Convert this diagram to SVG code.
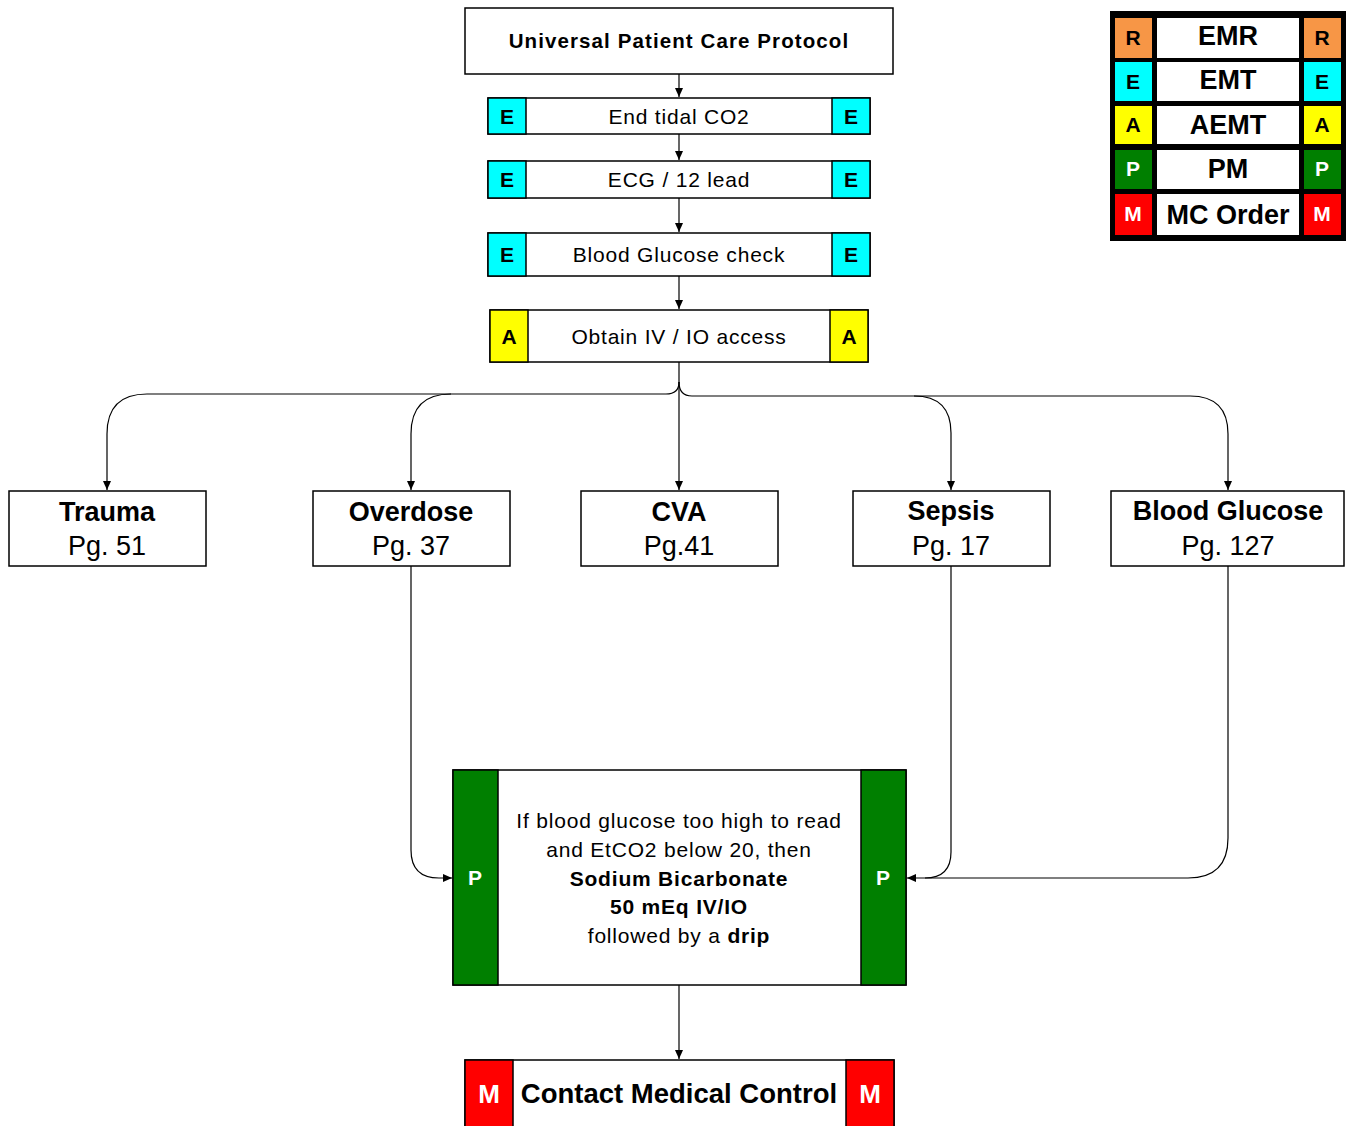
<svg xmlns="http://www.w3.org/2000/svg" width="1346" height="1126" viewBox="0 0 1346 1126">
<style>
text{font-family:"Liberation Sans",Arial,sans-serif;text-anchor:middle;fill:#000}
.b{font-weight:bold}
.box{fill:#fff;stroke:#000;stroke-width:1.5}
.e{fill:#00FFFF;stroke:#000;stroke-width:1.5}
.a{fill:#FFFF00;stroke:#000;stroke-width:1.5}
.p{fill:#007F00;stroke:#000;stroke-width:1.5}
.m{fill:#FF0000;stroke:#000;stroke-width:1.5}
.r{fill:#F79646}
.w{fill:#fff}
.s20{font-size:21px;letter-spacing:0.8px}
.tag{font-size:21px;font-weight:bold}
.wt{fill:#fff}
.conn path{fill:none;stroke:#000;stroke-width:1.2}
</style>
<defs>
<marker id="ah" markerWidth="10" markerHeight="8" refX="9" refY="4" orient="auto" markerUnits="userSpaceOnUse">
<path d="M0,0 L9,4 L0,8 z" fill="#000"/>
</marker>
</defs>

<g class="conn">
<path d="M679,74 L679,97" marker-end="url(#ah)"/>
<path d="M679,134 L679,160" marker-end="url(#ah)"/>
<path d="M679,198 L679,232" marker-end="url(#ah)"/>
<path d="M679,276 L679,309" marker-end="url(#ah)"/>
<path d="M679,362 L679,490" marker-end="url(#ah)"/>
<path d="M679,382 Q679,394 666,394 L147,394 Q107,394 107,434 L107,490" marker-end="url(#ah)"/>
<path d="M451,394 Q411,394 411,434 L411,490" marker-end="url(#ah)"/>
<path d="M679,382 Q679,396 692,396 L914,396 Q951,396 951,433 L951,490" marker-end="url(#ah)"/>
<path d="M914,396 L1190,396 Q1228,396 1228,434 L1228,490" marker-end="url(#ah)"/>
<path d="M411,566 L411,850 Q411,878 439,878 L452,878" marker-end="url(#ah)"/>
<path d="M951,566 L951,852 Q951,878 925,878 L907,878" marker-end="url(#ah)"/>
<path d="M1228,566 L1228,838 Q1228,878 1188,878 L925,878"/>
<path d="M679,985 L679,1059" marker-end="url(#ah)"/>
</g>

<g id="n-universal">
<rect class="box" x="465" y="8" width="428" height="66"/>
<text class="b" x="679" y="48" font-size="20.5" letter-spacing="1.1">Universal Patient Care Protocol</text>
</g>

<g id="n-etco2">
<rect class="box" x="488" y="98" width="382" height="36"/>
<rect class="e" x="488" y="98" width="38" height="36"/>
<rect class="e" x="832" y="98" width="38" height="36"/>
<text class="tag" x="507" y="124">E</text>
<text class="tag" x="851" y="124">E</text>
<text class="s20" x="679" y="124">End tidal CO2</text>
</g>

<g id="n-ecg">
<rect class="box" x="488" y="161" width="382" height="37"/>
<rect class="e" x="488" y="161" width="38" height="37"/>
<rect class="e" x="832" y="161" width="38" height="37"/>
<text class="tag" x="507" y="187">E</text>
<text class="tag" x="851" y="187">E</text>
<text class="s20" x="679" y="187">ECG / 12 lead</text>
</g>

<g id="n-bgcheck">
<rect class="box" x="488" y="233" width="382" height="43"/>
<rect class="e" x="488" y="233" width="38" height="43"/>
<rect class="e" x="832" y="233" width="38" height="43"/>
<text class="tag" x="507" y="262">E</text>
<text class="tag" x="851" y="262">E</text>
<text class="s20" x="679" y="262">Blood Glucose check</text>
</g>

<g id="n-iv">
<rect class="box" x="490" y="310" width="378" height="52"/>
<rect class="a" x="490" y="310" width="38" height="52"/>
<rect class="a" x="830" y="310" width="38" height="52"/>
<text class="tag" x="509" y="344">A</text>
<text class="tag" x="849" y="344">A</text>
<text class="s20" x="679" y="344">Obtain IV / IO access</text>
</g>

<g id="n-trauma">
<rect class="box" x="9" y="491" width="197" height="75"/>
<text class="b" x="107" y="521" font-size="27">Trauma</text>
<text x="107" y="555" font-size="27">Pg. 51</text>
</g>

<g id="n-overdose">
<rect class="box" x="313" y="491" width="197" height="75"/>
<text class="b" x="411" y="521" font-size="27">Overdose</text>
<text x="411" y="555" font-size="27">Pg. 37</text>
</g>

<g id="n-cva">
<rect class="box" x="581" y="491" width="197" height="75"/>
<text class="b" x="679" y="521" font-size="27">CVA</text>
<text x="679" y="555" font-size="27">Pg.41</text>
</g>

<g id="n-sepsis">
<rect class="box" x="853" y="491" width="197" height="75"/>
<text class="b" x="951" y="520" font-size="27">Sepsis</text>
<text x="951" y="555" font-size="27">Pg. 17</text>
</g>

<g id="n-bloodglucose">
<rect class="box" x="1111" y="491" width="233" height="75"/>
<text class="b" x="1228" y="520" font-size="27">Blood Glucose</text>
<text x="1228" y="555" font-size="27">Pg. 127</text>
</g>

<g id="n-bicarb">
<rect class="box" x="453" y="770" width="453" height="215"/>
<rect class="p" x="453" y="770" width="45" height="215"/>
<rect class="p" x="861" y="770" width="45" height="215"/>
<text class="tag wt" x="475" y="885">P</text>
<text class="tag wt" x="883" y="885">P</text>
<text class="s20" x="679" y="828">If blood glucose too high to read</text>
<text class="s20" x="679" y="857">and EtCO2 below 20, then</text>
<text class="s20 b" x="679" y="886" letter-spacing="0.5">Sodium Bicarbonate</text>
<text class="s20 b" x="679" y="914" letter-spacing="0.5">50 mEq IV/IO</text>
<text class="s20" x="679" y="943">followed by a <tspan class="b">drip</tspan></text>
</g>

<g id="n-contact">
<rect class="box" x="465" y="1060" width="429" height="70"/>
<rect class="m" x="465" y="1060" width="48" height="70"/>
<rect class="m" x="846" y="1060" width="48" height="70"/>
<text class="b wt" x="489" y="1103" font-size="26">M</text>
<text class="b wt" x="870" y="1103" font-size="26">M</text>
<text class="b" x="679" y="1103" font-size="27.5">Contact Medical Control</text>
</g>

<g id="legend">
<rect x="1110" y="11" width="236" height="230" fill="#000"/>
<rect class="r" x="1115" y="18" width="37" height="40"/>
<rect class="w" x="1157" y="18" width="142" height="40"/>
<rect class="r" x="1304" y="18" width="37" height="40"/>
<rect fill="#00FFFF" x="1115" y="62" width="37" height="39"/>
<rect class="w" x="1157" y="62" width="142" height="39"/>
<rect fill="#00FFFF" x="1304" y="62" width="37" height="39"/>
<rect fill="#FFFF00" x="1115" y="106" width="37" height="38"/>
<rect class="w" x="1157" y="106" width="142" height="38"/>
<rect fill="#FFFF00" x="1304" y="106" width="37" height="38"/>
<rect fill="#007F00" x="1115" y="150" width="37" height="39"/>
<rect class="w" x="1157" y="150" width="142" height="39"/>
<rect fill="#007F00" x="1304" y="150" width="37" height="39"/>
<rect fill="#FF0000" x="1115" y="194" width="37" height="41"/>
<rect class="w" x="1157" y="194" width="142" height="41"/>
<rect fill="#FF0000" x="1304" y="194" width="37" height="41"/>
<text class="tag" x="1133" y="45">R</text>
<text class="tag" x="1322" y="45">R</text>
<text class="tag" x="1133" y="89">E</text>
<text class="tag" x="1322" y="89">E</text>
<text class="tag" x="1133" y="132">A</text>
<text class="tag" x="1322" y="132">A</text>
<text class="tag wt" x="1133" y="176">P</text>
<text class="tag wt" x="1322" y="176">P</text>
<text class="tag wt" x="1133" y="221">M</text>
<text class="tag wt" x="1322" y="221">M</text>
<text class="b" x="1228" y="45" font-size="27">EMR</text>
<text class="b" x="1228" y="89" font-size="27">EMT</text>
<text class="b" x="1228" y="134" font-size="27">AEMT</text>
<text class="b" x="1228" y="178" font-size="27">PM</text>
<text class="b" x="1228" y="224" font-size="27">MC Order</text>
</g>
</svg>
